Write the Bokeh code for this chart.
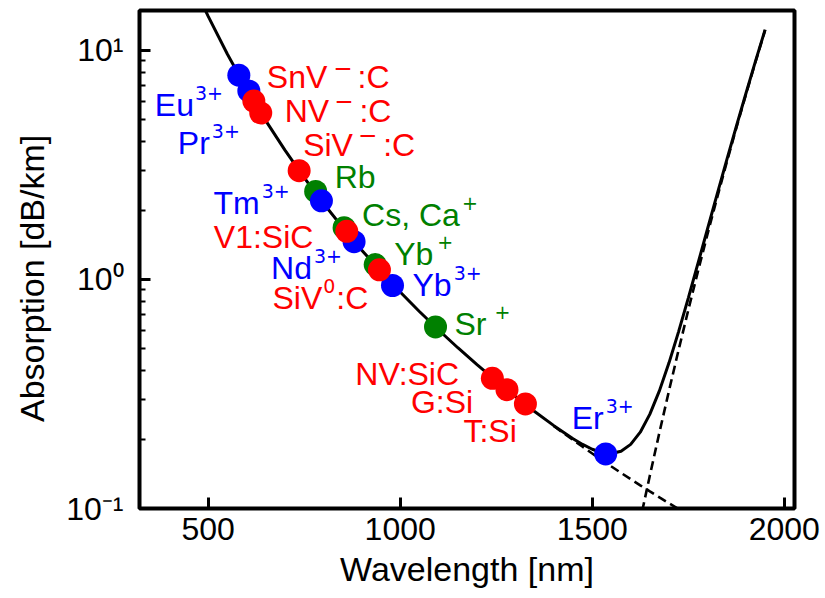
from bokeh.plotting import figure
from bokeh.models import ColumnDataSource, FixedTicker
from bokeh.core.properties import value
from bokeh.embed import file_html
from bokeh.resources import INLINE

# ---------------- data ----------------
curve_wavelength = [490, 500, 550, 600, 650, 700, 750, 800, 850, 900, 950, 1000,
                    1050, 1100, 1150, 1200, 1250, 1300, 1350, 1400, 1450, 1475,
                    1500, 1525, 1550, 1575, 1600, 1625, 1650, 1675, 1700, 1725,
                    1750, 1775, 1800, 1825, 1850, 1875, 1900, 1925, 1950]
curve_absorption = [15.27, 14.08, 9.62, 6.79, 4.93, 3.665, 2.781, 2.148, 1.686, 1.341,
                    1.080, 0.880, 0.724, 0.601, 0.503, 0.4244, 0.3605, 0.3081, 0.2651,
                    0.2299, 0.2016, 0.1903, 0.1814, 0.1755, 0.1738, 0.1779, 0.1905,
                    0.2153, 0.2581, 0.3269, 0.4333, 0.5931, 0.8284, 1.170, 1.658,
                    2.347, 3.311, 4.644, 6.473, 8.956, 12.30]

rayleigh_wavelength = [1400, 1425, 1450, 1475, 1500, 1525, 1550, 1575, 1600, 1625,
                       1650, 1675, 1700, 1725, 1750]
rayleigh_absorption = [0.2291, 0.2134, 0.1991, 0.1859, 0.1738, 0.1627, 0.1525, 0.1430,
                       0.1343, 0.1262, 0.1187, 0.1118, 0.1054, 0.0994, 0.0938]

infrared_wavelength = [1600, 1625, 1650, 1675, 1700, 1725, 1750, 1775, 1800, 1825,
                       1850, 1875, 1900, 1925, 1950]
infrared_absorption = [0.0562, 0.0891, 0.1394, 0.2151, 0.3279, 0.4937, 0.7346, 1.081,
                       1.574, 2.268, 3.236, 4.573, 6.405, 8.892, 12.24]

# emitters: label = base + superscript + tail
emitter_base = ["Eu", "Pr", "SnV", "NV", "SiV", "Rb", "Tm", "Cs, Ca", "V1:SiC", "Nd",
                "Yb", "SiV", "Yb", "Sr", "NV:SiC", "G:Si", "T:Si", "Er"]
emitter_sup = ["3+", "3+", "\u2212", "\u2212", "\u2212", "", "3+", "+", "", "3+",
               "+", "0", "3+", "+", "", "", "", "3+"]
emitter_tail = ["", "", ":C", ":C", ":C", "", "", "", "", "",
                "", ":C", "", "", "", "", "", ""]
emitter_wavelength = [580, 606, 619, 637, 737, 780, 795, 854, 861, 880,
                      935, 946, 980, 1092, 1240, 1278, 1326, 1535]
emitter_absorption = [7.78, 6.64, 6.0, 5.32, 2.98, 2.42, 2.20, 1.68, 1.62, 1.46,
                      1.16, 1.10, 0.94, 0.62, 0.37, 0.33, 0.286, 0.173]
emitter_kind = ["ion", "ion", "defect", "defect", "defect", "atom", "ion", "atom",
                "defect", "ion", "atom", "defect", "ion", "atom", "defect", "defect",
                "defect", "ion"]

x_tick_values = [500, 1000, 1500, 2000]
x_tick_labels = ["500", "1000", "1500", "2000"]
y_tick_values = [0.1, 1, 10]
y_tick_labels = ["10\u207b\u00b9", "10\u2070", "10\u00b9"]
x_label = "Wavelength [nm]"
y_label = "Absorption [dB/km]"

# ---------------- layout / style ----------------
KIND_COLOR = {"ion": "#0000ff", "defect": "#ff0000", "atom": "#008000"}
FONT = "Liberation Sans"
SUP_FONT = "DejaVu Sans"
FS = 32
SFS = 19          # superscript digits / plus
MINUS_FS = 23     # superscript minus sign
SUP_RAISE = 12
MINUS_RAISE = 10
DY_SHIFT = -12

# label offsets (px) from each point: dx right, dy down; gaps before sup and tail
label_dx = [-84, -71, 13, 24, 4, 19, -108, 18, -133, -83, 19, -107, 20, 19, -137, -96, -62, -34]
label_dy = [42, 64, -12, 10, -14, -2, 14, -1, 18, 38, 1, 40, 11, 9, 8, 24, 39, -24]
sup_gap = [1, 2, 6, 5, 5, 0, 2, 2, 0, 2, 4, 1, 2, 8, 0, 0, 0, 2]
tail_gap = [0, 0, 5, 6, 6, 0, 0, 0, 0, 0, 0, 1, 0, 0, 0, 0, 0, 0]

ARIAL = {"A": .667, "B": .667, "C": .722, "D": .722, "E": .667, "G": .778, "N": .722,
         "P": .667, "R": .722, "S": .667, "T": .611, "V": .667, "Y": .667,
         "a": .556, "b": .556, "d": .556, "i": .222, "m": .833, "n": .556, "r": .333,
         "s": .5, "u": .556, "1": .556, ":": .278, ",": .278, " ": .278, "0": .556}
DEJAVU = {"3": .636, "0": .636, "+": .838, "\u2212": .838}


def width(s, size, table):
    return sum(table.get(c, 0.556) for c in s) * size


p = figure(width=825, height=598, x_range=(321.4, 2026.5), y_range=(0.1, 14.9),
           y_axis_type="log", output_backend="svg", toolbar_location=None,
           min_border_left=139, min_border_right=31, min_border_top=10,
           min_border_bottom=90)
p.background_fill_color = "white"
p.border_fill_color = "white"
p.outline_line_color = "black"
p.outline_line_width = 4
p.grid.visible = False

# curves
p.line(rayleigh_wavelength, rayleigh_absorption, line_color="black", line_width=2.6,
       line_dash="9 5")
p.line(infrared_wavelength, infrared_absorption, line_color="black", line_width=2.6,
       line_dash="9 5")
p.line(curve_wavelength, curve_absorption, line_color="black", line_width=3)

# points
for kind in ["atom", "ion", "defect"]:
    idx = [i for i, k in enumerate(emitter_kind) if k == kind]
    p.scatter([emitter_wavelength[i] for i in idx], [emitter_absorption[i] for i in idx],
              size=23, fill_color=KIND_COLOR[kind], line_color=KIND_COLOR[kind],
              line_width=0)

# labels
n = len(emitter_base)
colors = [KIND_COLOR[k] for k in emitter_kind]
base_dy = [d + DY_SHIFT for d in label_dy]
sup_size = [MINUS_FS if s == "\u2212" else SFS for s in emitter_sup]
sup_raise = [MINUS_RAISE if s == "\u2212" else SUP_RAISE for s in emitter_sup]
sup_dx, tail_dx = [], []
for i in range(n):
    sx = label_dx[i] + width(emitter_base[i], FS, ARIAL) + sup_gap[i]
    sup_dx.append(sx)
    tail_dx.append(sx + width(emitter_sup[i], sup_size[i], DEJAVU) + tail_gap[i])

base_src = ColumnDataSource(dict(x=emitter_wavelength, y=emitter_absorption,
                                 text=emitter_base, color=colors,
                                 dx=label_dx, dy=base_dy))
sup_src = ColumnDataSource(dict(x=emitter_wavelength, y=emitter_absorption,
                                text=emitter_sup, color=colors, dx=sup_dx,
                                dy=[d - r for d, r in zip(base_dy, sup_raise)],
                                size=[f"{s}px" for s in sup_size]))
tail_src = ColumnDataSource(dict(x=emitter_wavelength, y=emitter_absorption,
                                 text=emitter_tail, color=colors, dx=tail_dx,
                                 dy=base_dy))

for src, font in [(base_src, FONT), (tail_src, FONT)]:
    p.text(x="x", y="y", text="text", source=src, x_offset="dx", y_offset="dy",
           text_color="color", text_font=value(font), text_font_size=f"{FS}px",
           text_align="left", text_baseline="alphabetic")
p.text(x="x", y="y", text="text", source=sup_src, x_offset="dx", y_offset="dy",
       text_color="color", text_font=value(SUP_FONT), text_font_size="size",
       text_align="left", text_baseline="alphabetic")

# axes
xa = p.xaxis[0]
xa.ticker = FixedTicker(ticks=x_tick_values, minor_ticks=[])
xa.major_label_overrides = {v: l for v, l in zip(x_tick_values, x_tick_labels)}
xa.axis_label = x_label
xa.major_label_standoff = 9
xa.axis_label_standoff = 7

ya = p.yaxis[0]
ya.ticker = FixedTicker(ticks=y_tick_values,
                        minor_ticks=[m * d for d in (0.1, 1) for m in range(2, 10)])
ya.major_label_overrides = {v: l for v, l in zip(y_tick_values, y_tick_labels)}
# trailing no-break spaces move the centred label slightly down, as in the original
ya.axis_label = y_label + "\u00a0" * 4
ya.major_label_standoff = 16
ya.axis_label_standoff = 12

for ax in (xa, ya):
    ax.axis_line_color = None
    ax.major_tick_in = 11
    ax.major_tick_out = 0
    ax.major_tick_line_width = 3
    ax.minor_tick_in = 6
    ax.minor_tick_out = 0
    ax.minor_tick_line_width = 2
    ax.major_label_text_font = FONT
    ax.major_label_text_font_size = "32px"
    ax.major_label_text_color = "black"
    ax.axis_label_text_font = FONT
    ax.axis_label_text_font_size = "34px"
    ax.axis_label_text_font_style = "normal"
    ax.axis_label_text_color = "black"

open("out.html", "w").write(file_html(p, INLINE))
